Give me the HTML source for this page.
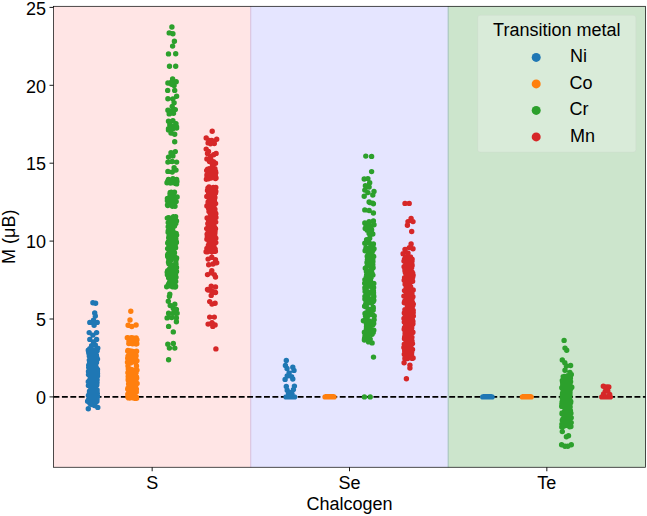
<!DOCTYPE html>
<html><head><meta charset="utf-8"><title>Chart</title>
<style>html,body{margin:0;padding:0;background:#fff;font-family:"Liberation Sans",sans-serif}svg{display:block}</style></head>
<body>
<svg width="647" height="516" viewBox="0 0 647 516">
<rect width="647" height="516" fill="#fff"/>
<rect x="53.50" y="6.30" width="197.33" height="460.95" fill="#ffe5e5"/>
<rect x="250.83" y="6.30" width="197.33" height="460.95" fill="#e5e5ff"/>
<rect x="448.17" y="6.30" width="197.33" height="460.95" fill="#cce5cc"/>
<line x1="250.70" y1="6.30" x2="250.70" y2="467.25" stroke="#d9c2e0" stroke-width="1.10"/>
<line x1="448.20" y1="6.30" x2="448.20" y2="467.25" stroke="#a6c3bd" stroke-width="1.10"/>
<line x1="53.50" y1="396.90" x2="645.50" y2="396.90" stroke="#000" stroke-width="1.60" stroke-dasharray="5.88 2.54"/>
<path d="M92.9 302.7h.01M95.6 303.3h.01M94.7 312.9h.01M95.3 316.0h.01M89.8 322.4h.01M93.5 320.3h.01M97.2 322.4h.01M94.1 325.2h.01M89.2 332.6h.01M96.6 332.6h.01M92.9 335.1h.01M89.8 339.4h.01M96.6 339.4h.01M93.5 341.9h.01M91.6 345.6h.01M95.3 345.0h.01M89.8 348.7h.01M97.8 348.1h.01M88.3 350.2h.01M93.3 350.1h.01M97.2 350.6h.01M87.6 401.2h.01M91.8 401.3h.01M96.1 401.9h.01M96.0 350.1h.01M90.3 350.3h.01M97.1 350.8h.01M91.9 351.1h.01M88.6 351.5h.01M90.9 351.7h.01M89.3 351.8h.01M95.9 352.2h.01M93.7 352.4h.01M91.7 352.8h.01M88.8 353.1h.01M90.1 353.3h.01M92.2 353.7h.01M93.7 353.9h.01M91.0 354.3h.01M94.8 354.7h.01M93.6 354.8h.01M96.4 355.2h.01M90.9 355.5h.01M89.3 355.9h.01M95.3 356.0h.01M92.8 356.2h.01M94.5 356.5h.01M93.6 357.0h.01M91.1 357.3h.01M93.8 357.6h.01M92.5 357.9h.01M97.1 358.2h.01M94.4 358.4h.01M94.8 358.6h.01M97.5 359.1h.01M90.9 359.4h.01M94.5 359.6h.01M92.5 359.8h.01M89.3 360.1h.01M95.4 360.4h.01M90.5 360.7h.01M96.4 361.0h.01M92.4 361.3h.01M96.5 361.7h.01M96.3 362.1h.01M92.1 362.2h.01M96.5 362.5h.01M89.6 363.0h.01M90.4 363.1h.01M92.8 363.4h.01M90.7 363.8h.01M92.1 363.9h.01M93.5 364.3h.01M94.7 364.8h.01M94.0 364.9h.01M88.7 365.3h.01M95.5 365.6h.01M95.7 365.9h.01M92.0 366.1h.01M94.2 366.3h.01M88.8 366.6h.01M89.7 366.9h.01M88.7 367.2h.01M89.6 367.4h.01M91.6 367.8h.01M96.4 368.0h.01M89.6 368.5h.01M91.5 368.7h.01M89.4 369.0h.01M97.5 369.5h.01M92.7 369.6h.01M89.2 369.8h.01M90.7 370.2h.01M89.7 370.6h.01M97.1 370.7h.01M89.6 371.1h.01M88.5 371.4h.01M97.4 371.7h.01M94.7 372.1h.01M91.6 372.2h.01M95.5 372.5h.01M95.5 372.9h.01M90.3 373.1h.01M97.5 373.6h.01M95.8 373.9h.01M95.2 374.2h.01M93.1 374.3h.01M88.5 374.6h.01M90.8 374.8h.01M94.7 375.2h.01M92.4 375.7h.01M97.5 376.0h.01M91.6 376.3h.01M90.3 376.4h.01M90.1 376.6h.01M96.7 377.1h.01M92.7 377.4h.01M95.7 377.7h.01M94.4 377.8h.01M95.6 378.3h.01M92.7 378.6h.01M95.6 378.7h.01M95.7 379.1h.01M91.9 379.5h.01M97.1 379.7h.01M89.8 380.1h.01M89.6 380.2h.01M95.8 380.7h.01M96.0 380.8h.01M94.4 381.3h.01M93.4 381.4h.01M88.3 381.7h.01M94.3 382.2h.01M97.0 382.4h.01M96.4 382.6h.01M90.2 383.0h.01M91.0 383.2h.01M93.7 383.5h.01M92.1 383.8h.01M96.8 384.0h.01M92.5 384.4h.01M96.7 384.7h.01M96.8 385.0h.01M93.2 385.3h.01M88.4 385.6h.01M89.9 385.9h.01M95.7 386.0h.01M92.7 386.4h.01M93.4 386.9h.01M93.1 387.0h.01M95.6 387.4h.01M93.5 387.6h.01M90.8 387.9h.01M93.0 388.3h.01M95.3 388.6h.01M92.4 389.0h.01M93.0 389.2h.01M94.7 389.4h.01M93.2 389.7h.01M97.1 390.0h.01M96.4 390.4h.01M90.6 390.8h.01M97.1 390.9h.01M89.5 391.3h.01M92.4 391.4h.01M90.5 391.7h.01M94.5 392.0h.01M96.6 392.5h.01M94.9 392.6h.01M89.5 393.0h.01M97.3 393.4h.01M97.2 393.5h.01M92.8 393.8h.01M96.0 394.3h.01M92.3 394.4h.01M91.4 394.8h.01M91.2 395.0h.01M88.4 395.4h.01M92.3 395.7h.01M91.3 395.8h.01M93.0 396.3h.01M97.5 396.4h.01M97.3 396.9h.01M90.7 397.0h.01M95.5 397.3h.01M89.4 397.6h.01M96.8 398.0h.01M90.6 398.4h.01M96.8 398.5h.01M94.8 398.9h.01M88.7 399.1h.01M92.2 399.5h.01M97.0 399.7h.01M95.7 400.1h.01M96.2 400.3h.01M96.3 400.5h.01M91.4 401.0h.01M96.9 401.3h.01M89.4 401.5h.01M90.4 401.9h.01M88.3 408.8h.01M97.8 407.4h.01M92.0 404.5h.01M94.5 405.5h.01M90.0 403.5h.01M286.3 360.5h.01M285.4 365.5h.01M287.0 368.5h.01M292.8 367.3h.01M294.0 370.4h.01M289.1 372.9h.01M287.2 376.0h.01M291.6 376.6h.01M285.1 379.4h.01M292.8 379.0h.01M286.3 386.5h.01M294.4 386.1h.01M287.2 390.2h.01M293.4 389.6h.01M290.3 392.6h.01M288.5 393.5h.01M292.0 394.0h.01M286.1 396.9h.01M286.7 396.9h.01M287.6 396.9h.01M287.9 396.9h.01M288.3 396.9h.01M289.2 396.9h.01M290.0 396.9h.01M290.9 396.9h.01M291.6 396.9h.01M292.0 396.9h.01M292.6 396.9h.01M293.1 396.9h.01M294.1 396.9h.01M294.5 396.9h.01M482.8 396.9h.01M483.4 396.9h.01M483.8 396.9h.01M484.5 396.9h.01M484.8 396.9h.01M485.4 396.9h.01M485.6 396.9h.01M486.3 396.9h.01M486.7 396.9h.01M487.1 396.9h.01M487.8 396.9h.01M488.3 396.9h.01M488.4 396.9h.01M488.9 396.9h.01M489.4 396.9h.01M489.8 396.9h.01M490.2 396.9h.01M490.8 396.9h.01M491.3 396.9h.01M492.0 396.9h.01" stroke="#1f77b4" stroke-width="5.40" stroke-linecap="round" fill="none"/>
<path d="M130.8 311.3h.01M130.0 320.0h.01M128.1 325.2h.01M131.8 326.5h.01M136.1 325.0h.01M127.3 337.8h.01M131.3 337.8h.01M136.2 338.0h.01M128.8 343.5h.01M132.4 343.7h.01M136.3 344.0h.01M127.8 337.6h.01M132.9 338.0h.01M132.2 338.1h.01M128.7 338.7h.01M131.8 338.9h.01M135.5 339.1h.01M132.5 339.4h.01M136.9 339.8h.01M135.5 340.0h.01M133.7 340.4h.01M131.0 340.6h.01M128.9 340.8h.01M134.7 341.1h.01M129.2 341.4h.01M135.6 341.7h.01M134.0 342.2h.01M130.0 342.3h.01M132.0 342.6h.01M131.9 342.9h.01M136.7 343.2h.01M132.8 343.7h.01M136.8 343.8h.01M127.7 351.1h.01M131.2 351.1h.01M136.6 351.3h.01M127.5 362.2h.01M131.2 362.6h.01M135.7 362.4h.01M127.9 350.5h.01M129.9 351.0h.01M132.7 351.4h.01M133.9 351.8h.01M136.0 352.2h.01M130.8 352.4h.01M129.1 353.0h.01M133.7 353.3h.01M135.6 353.4h.01M133.6 354.0h.01M135.3 354.3h.01M132.6 354.5h.01M135.5 355.0h.01M135.5 355.4h.01M136.1 355.7h.01M134.2 356.1h.01M128.0 356.3h.01M131.1 356.6h.01M135.6 357.0h.01M133.6 357.5h.01M134.1 357.9h.01M127.7 358.2h.01M134.7 358.6h.01M132.7 358.9h.01M128.3 359.3h.01M130.1 359.7h.01M130.2 359.8h.01M129.6 360.4h.01M136.9 360.8h.01M131.3 361.0h.01M134.1 361.4h.01M133.5 361.8h.01M128.4 362.2h.01M130.1 362.3h.01M130.6 362.9h.01M128.3 369.0h.01M131.4 369.4h.01M137.0 370.1h.01M128.6 397.9h.01M132.4 397.7h.01M136.6 398.2h.01M129.6 369.3h.01M136.5 369.6h.01M132.0 369.6h.01M136.8 370.2h.01M130.2 370.4h.01M136.6 370.6h.01M133.2 370.9h.01M132.6 371.2h.01M128.9 371.7h.01M132.5 372.0h.01M134.3 372.3h.01M136.1 372.4h.01M127.9 372.8h.01M132.3 373.0h.01M130.5 373.4h.01M130.9 373.6h.01M135.6 374.0h.01M134.8 374.2h.01M128.8 374.8h.01M134.4 375.1h.01M130.4 375.4h.01M131.4 375.5h.01M133.2 376.0h.01M131.7 376.2h.01M128.2 376.4h.01M135.5 376.7h.01M136.5 377.0h.01M130.2 377.3h.01M129.5 377.7h.01M136.7 378.0h.01M135.3 378.5h.01M136.3 378.7h.01M132.9 379.1h.01M128.2 379.3h.01M131.9 379.6h.01M133.8 379.9h.01M128.2 380.1h.01M128.9 380.6h.01M130.9 380.8h.01M134.6 381.0h.01M130.1 381.5h.01M130.5 381.8h.01M131.4 382.0h.01M129.2 382.2h.01M136.2 382.5h.01M129.8 382.9h.01M137.1 383.4h.01M129.0 383.5h.01M128.6 383.8h.01M128.6 384.1h.01M130.1 384.4h.01M136.0 384.8h.01M131.6 385.2h.01M132.6 385.4h.01M130.9 385.7h.01M130.3 385.9h.01M128.9 386.4h.01M133.6 386.6h.01M129.7 387.0h.01M130.0 387.2h.01M131.9 387.5h.01M135.7 388.0h.01M127.9 388.3h.01M134.4 388.3h.01M132.1 388.9h.01M127.7 389.1h.01M136.4 389.3h.01M135.7 389.8h.01M130.0 390.1h.01M129.2 390.2h.01M134.1 390.6h.01M134.5 391.0h.01M134.9 391.2h.01M132.9 391.5h.01M135.1 391.7h.01M136.3 392.0h.01M130.6 392.5h.01M130.1 392.6h.01M134.3 393.1h.01M128.4 393.2h.01M133.2 393.7h.01M129.8 393.9h.01M127.8 394.3h.01M132.0 394.5h.01M133.8 395.0h.01M132.2 395.3h.01M130.0 395.4h.01M134.3 395.9h.01M127.9 396.0h.01M134.0 396.4h.01M130.1 396.7h.01M136.4 397.1h.01M128.0 397.2h.01M131.7 397.6h.01M129.6 398.0h.01M134.6 398.3h.01M128.0 366.0h.01M136.5 366.0h.01M325.1 396.9h.01M325.5 396.9h.01M325.9 396.9h.01M326.7 396.9h.01M326.9 396.9h.01M327.8 396.9h.01M327.9 396.9h.01M328.7 396.9h.01M328.8 396.9h.01M329.2 396.9h.01M330.0 396.9h.01M330.3 396.9h.01M331.0 396.9h.01M331.2 396.9h.01M331.6 396.9h.01M332.4 396.9h.01M332.9 396.9h.01M333.4 396.9h.01M333.8 396.9h.01M334.0 396.9h.01M522.4 396.9h.01M522.7 396.9h.01M523.3 396.9h.01M523.8 396.9h.01M524.3 396.9h.01M524.6 396.9h.01M525.1 396.9h.01M525.5 396.9h.01M526.4 396.9h.01M526.8 396.9h.01M526.9 396.9h.01M527.7 396.9h.01M528.3 396.9h.01M528.6 396.9h.01M528.8 396.9h.01M529.5 396.9h.01M529.9 396.9h.01M530.3 396.9h.01M530.9 396.9h.01M531.1 396.9h.01" stroke="#ff7f0e" stroke-width="5.40" stroke-linecap="round" fill="none"/>
<path d="M171.9 27.0h.01M169.2 32.9h.01M172.9 33.8h.01M174.4 41.3h.01M172.6 46.1h.01M168.5 53.9h.01M175.7 53.7h.01M169.5 66.3h.01M175.7 66.3h.01M172.6 78.9h.01M167.9 83.0h.01M171.6 84.2h.01M176.2 81.7h.01M174.1 85.5h.01M167.7 90.4h.01M174.7 90.4h.01M167.9 98.7h.01M172.9 99.0h.01M176.6 96.2h.01M174.1 102.8h.01M172.2 106.5h.01M167.9 110.2h.01M171.6 111.4h.01M175.3 109.6h.01M169.2 113.9h.01M173.5 113.3h.01M168.5 121.3h.01M172.9 120.7h.01M176.0 123.8h.01M169.8 125.0h.01M174.1 126.2h.01M168.5 128.7h.01M176.6 128.1h.01M168.5 129.9h.01M172.9 128.7h.01M176.6 126.9h.01M171.0 133.0h.01M174.7 134.3h.01M174.7 141.7h.01M171.0 152.8h.01M175.3 151.6h.01M168.5 157.1h.01M172.9 155.9h.01M167.9 162.1h.01M172.2 161.5h.01M176.6 162.1h.01M167.9 171.4h.01M172.2 172.0h.01M176.0 170.1h.01M174.1 167.6h.01M168.5 179.4h.01M172.9 178.8h.01M176.6 179.4h.01M170.4 183.1h.01M174.7 183.1h.01M171.0 82.4h.01M173.5 83.0h.01M170.0 111.5h.01M173.0 111.0h.01M167.7 181.3h.01M173.0 181.5h.01M176.9 181.4h.01M167.0 182.8h.01M171.4 182.5h.01M176.1 183.7h.01M171.1 181.1h.01M176.1 181.6h.01M170.9 181.8h.01M176.4 182.2h.01M167.7 182.6h.01M170.9 182.9h.01M175.5 183.6h.01M176.6 183.9h.01M170.2 192.5h.01M171.5 193.5h.01M174.5 192.1h.01M169.9 196.4h.01M171.7 196.5h.01M173.7 197.0h.01M171.2 192.2h.01M170.0 193.6h.01M170.4 194.5h.01M173.5 194.8h.01M171.6 196.0h.01M171.8 196.2h.01M167.4 198.5h.01M171.2 197.6h.01M177.1 197.0h.01M167.5 205.0h.01M172.5 206.2h.01M175.0 206.2h.01M169.6 197.4h.01M175.6 197.7h.01M169.8 198.0h.01M173.0 198.7h.01M173.9 198.8h.01M169.8 199.2h.01M174.3 199.5h.01M173.2 200.3h.01M167.4 200.8h.01M171.7 200.9h.01M176.2 201.6h.01M169.6 201.8h.01M171.8 202.3h.01M168.9 202.9h.01M174.1 203.3h.01M174.5 203.7h.01M170.3 204.0h.01M170.6 204.3h.01M167.9 204.9h.01M174.3 205.1h.01M167.8 205.6h.01M172.4 205.9h.01M167.3 218.1h.01M172.8 218.1h.01M175.6 216.6h.01M166.7 286.7h.01M172.4 286.8h.01M175.5 286.8h.01M173.5 216.8h.01M175.2 217.3h.01M168.3 217.7h.01M170.0 218.3h.01M170.7 218.6h.01M169.1 219.2h.01M169.5 219.4h.01M175.5 219.8h.01M170.3 220.5h.01M176.5 220.9h.01M169.4 221.4h.01M173.3 222.0h.01M168.2 222.6h.01M174.9 222.8h.01M175.8 223.4h.01M170.0 223.5h.01M169.0 224.0h.01M172.7 224.9h.01M170.7 225.3h.01M171.4 225.8h.01M174.5 226.0h.01M168.2 226.8h.01M173.0 227.1h.01M170.7 227.3h.01M169.1 227.8h.01M172.8 228.3h.01M169.1 228.9h.01M170.3 229.1h.01M168.9 229.9h.01M169.1 230.2h.01M172.4 230.9h.01M168.2 231.0h.01M172.4 231.6h.01M168.1 232.2h.01M173.7 232.5h.01M169.9 233.0h.01M176.2 233.5h.01M172.5 233.9h.01M171.1 234.4h.01M176.6 235.1h.01M169.1 235.4h.01M169.1 236.0h.01M175.7 236.1h.01M174.9 236.8h.01M175.5 237.2h.01M168.7 237.7h.01M172.4 238.0h.01M175.8 238.8h.01M173.0 239.0h.01M171.9 239.6h.01M169.9 239.9h.01M175.9 240.6h.01M171.8 240.8h.01M176.3 241.6h.01M168.4 241.8h.01M176.4 242.6h.01M167.7 242.9h.01M170.8 243.6h.01M173.0 244.0h.01M168.7 244.4h.01M169.3 244.9h.01M175.2 245.2h.01M168.9 245.8h.01M171.0 246.0h.01M170.8 246.6h.01M169.5 246.9h.01M175.6 247.7h.01M172.5 247.8h.01M167.6 248.6h.01M168.3 249.1h.01M172.4 249.5h.01M170.1 250.0h.01M172.7 250.3h.01M173.4 250.8h.01M171.3 251.3h.01M173.0 251.5h.01M169.4 252.2h.01M174.5 252.8h.01M168.9 253.1h.01M168.2 253.6h.01M171.2 253.9h.01M171.4 254.4h.01M167.6 255.0h.01M168.0 255.6h.01M174.5 256.1h.01M167.7 256.4h.01M170.8 256.9h.01M168.5 257.6h.01M176.6 258.0h.01M174.9 258.4h.01M176.4 258.6h.01M176.2 259.2h.01M168.8 259.9h.01M175.9 260.3h.01M170.5 260.4h.01M168.7 261.2h.01M169.8 261.8h.01M168.5 262.2h.01M175.8 262.5h.01M169.7 262.8h.01M170.2 263.4h.01M168.9 263.7h.01M176.0 264.2h.01M175.6 264.9h.01M174.6 265.2h.01M172.2 265.6h.01M170.6 266.3h.01M172.4 266.9h.01M175.5 267.2h.01M176.5 267.5h.01M170.9 268.2h.01M169.7 268.7h.01M172.6 269.3h.01M174.4 269.5h.01M168.9 270.0h.01M167.7 270.6h.01M169.6 271.1h.01M176.5 271.4h.01M173.4 271.9h.01M167.2 272.2h.01M168.6 272.6h.01M171.3 273.3h.01M175.6 273.7h.01M169.3 274.0h.01M167.4 274.7h.01M170.5 274.9h.01M170.6 275.4h.01M172.7 275.9h.01M169.1 276.6h.01M171.7 277.0h.01M176.0 277.3h.01M168.6 277.8h.01M173.2 278.2h.01M174.6 279.0h.01M169.7 279.3h.01M173.3 279.6h.01M170.5 280.3h.01M171.4 280.8h.01M174.1 281.4h.01M175.7 281.5h.01M172.2 281.9h.01M169.4 282.6h.01M174.5 282.9h.01M172.4 283.3h.01M168.5 284.2h.01M172.9 284.3h.01M173.2 284.9h.01M168.8 285.5h.01M170.0 285.8h.01M175.6 286.1h.01M173.9 286.9h.01M175.1 287.0h.01M169.8 294.3h.01M169.4 296.2h.01M168.3 301.2h.01M170.2 305.5h.01M174.8 304.3h.01M173.3 308.6h.01M176.4 309.4h.01M168.6 313.3h.01M173.3 313.3h.01M177.1 313.3h.01M167.1 317.9h.01M171.7 317.6h.01M176.4 317.9h.01M176.4 321.8h.01M168.6 326.4h.01M173.3 331.9h.01M167.8 344.3h.01M173.3 343.5h.01M169.4 348.1h.01M174.8 348.1h.01M168.6 359.8h.01M365.8 156.1h.01M371.6 156.4h.01M371.6 171.6h.01M364.2 179.0h.01M367.9 178.6h.01M369.7 182.7h.01M365.4 185.8h.01M369.1 187.0h.01M364.8 190.1h.01M374.0 191.4h.01M367.9 192.6h.01M364.2 196.3h.01M372.8 195.1h.01M369.1 201.9h.01M372.8 203.1h.01M369.7 202.5h.01M373.4 203.7h.01M364.8 209.9h.01M369.1 210.5h.01M373.4 213.0h.01M364.8 222.9h.01M369.1 221.6h.01M373.4 221.0h.01M366.0 226.6h.01M370.3 226.0h.01M374.0 224.7h.01M367.2 230.3h.01M371.6 229.7h.01M369.1 233.4h.01M372.8 234.0h.01M365.2 228.5h.01M368.5 224.5h.01M366.6 239.6h.01M369.7 238.3h.01M364.8 243.3h.01M369.1 242.6h.01M373.4 243.9h.01M366.0 247.6h.01M370.3 247.0h.01M374.0 248.8h.01M365.3 250.1h.01M369.1 250.5h.01M372.9 250.5h.01M365.5 316.0h.01M368.1 315.0h.01M374.2 315.9h.01M371.4 249.2h.01M372.6 249.8h.01M365.1 250.7h.01M369.9 251.3h.01M370.9 252.0h.01M372.0 252.5h.01M370.6 253.3h.01M368.4 254.2h.01M371.9 254.7h.01M371.9 255.7h.01M367.2 256.2h.01M373.7 256.5h.01M372.3 257.6h.01M370.2 258.0h.01M372.3 259.1h.01M367.4 259.6h.01M372.8 260.1h.01M370.9 260.8h.01M372.9 261.6h.01M367.2 262.4h.01M367.0 262.5h.01M370.0 263.5h.01M372.8 264.4h.01M372.3 264.6h.01M372.7 265.8h.01M367.1 266.3h.01M372.1 267.2h.01M373.1 267.7h.01M365.3 268.2h.01M372.0 269.0h.01M371.6 269.4h.01M366.7 270.6h.01M370.9 271.1h.01M366.4 271.6h.01M371.6 272.2h.01M368.8 273.2h.01M372.1 273.4h.01M366.7 274.6h.01M372.9 275.1h.01M369.4 276.0h.01M370.0 276.4h.01M366.3 276.9h.01M371.1 277.5h.01M369.8 278.3h.01M369.4 279.1h.01M364.9 279.6h.01M368.0 280.8h.01M370.4 280.9h.01M366.0 282.0h.01M367.7 282.6h.01M364.7 283.2h.01M373.8 283.5h.01M369.1 284.8h.01M367.0 285.3h.01M368.5 286.1h.01M371.7 286.9h.01M373.6 287.5h.01M364.9 287.7h.01M366.2 288.4h.01M365.0 289.0h.01M372.7 290.0h.01M373.4 290.6h.01M365.1 291.6h.01M368.2 292.0h.01M373.5 292.4h.01M369.8 293.2h.01M373.5 294.1h.01M368.2 294.8h.01M366.0 295.3h.01M373.8 296.4h.01M364.9 296.5h.01M367.8 297.2h.01M373.0 298.3h.01M364.9 299.0h.01M371.2 299.6h.01M373.8 300.2h.01M365.9 300.5h.01M373.3 301.6h.01M367.3 302.2h.01M371.6 302.9h.01M367.5 303.2h.01M365.7 304.0h.01M366.1 304.8h.01M365.8 305.3h.01M364.6 306.3h.01M366.3 307.0h.01M373.2 307.2h.01M373.3 308.0h.01M372.9 309.1h.01M368.7 309.3h.01M373.2 310.0h.01M370.4 311.2h.01M367.7 311.6h.01M369.0 312.5h.01M365.8 313.0h.01M365.0 313.4h.01M369.7 314.5h.01M372.7 314.7h.01M368.4 315.5h.01M367.0 318.2h.01M367.6 320.4h.01M369.1 320.9h.01M373.0 322.4h.01M373.7 323.4h.01M372.9 324.7h.01M366.5 326.8h.01M367.2 327.8h.01M366.4 328.9h.01M373.8 330.3h.01M373.2 332.5h.01M367.2 332.6h.01M365.0 335.0h.01M367.3 336.1h.01M364.7 337.7h.01M367.7 338.8h.01M364.5 339.2h.01M369.4 341.5h.01M368.6 341.9h.01M363.4 320.7h.01M369.2 321.6h.01M374.1 319.7h.01M370.2 326.5h.01M364.4 332.3h.01M369.2 330.3h.01M372.1 334.2h.01M364.4 340.0h.01M370.2 339.1h.01M372.1 342.9h.01M366.5 324.0h.01M367.0 336.0h.01M373.5 357.1h.01M364.4 396.9h.01M370.2 396.9h.01M564.1 340.4h.01M565.0 348.1h.01M566.7 350.2h.01M562.3 359.9h.01M564.8 362.7h.01M570.6 365.5h.01M566.4 365.9h.01M565.0 370.3h.01M569.9 372.4h.01M571.3 374.5h.01M567.8 375.8h.01M570.5 376.1h.01M564.2 376.4h.01M563.2 376.6h.01M569.0 376.9h.01M564.6 377.5h.01M567.8 377.6h.01M570.4 378.2h.01M569.1 378.3h.01M568.7 378.9h.01M563.6 379.0h.01M564.8 379.5h.01M567.0 379.7h.01M569.5 380.1h.01M562.3 380.4h.01M567.7 380.8h.01M568.4 381.2h.01M570.6 381.6h.01M566.5 381.8h.01M564.7 382.0h.01M562.6 382.5h.01M563.4 382.9h.01M570.1 383.2h.01M563.0 383.5h.01M564.2 384.2h.01M562.7 384.9h.01M569.2 385.4h.01M565.9 385.9h.01M567.7 386.1h.01M565.9 386.8h.01M561.8 387.7h.01M566.9 388.3h.01M571.8 387.3h.01M561.7 406.3h.01M566.7 406.4h.01M570.1 406.9h.01M566.1 387.1h.01M570.4 387.6h.01M571.1 387.9h.01M567.7 388.2h.01M562.3 388.5h.01M567.5 388.8h.01M567.2 389.0h.01M566.3 389.5h.01M564.6 389.7h.01M570.2 389.9h.01M563.5 390.1h.01M566.0 390.6h.01M568.0 390.8h.01M567.3 391.2h.01M566.8 391.5h.01M565.5 391.9h.01M563.4 392.0h.01M567.0 392.6h.01M570.0 392.7h.01M562.6 393.0h.01M564.1 393.4h.01M567.0 393.7h.01M567.2 393.9h.01M566.6 394.2h.01M562.5 394.7h.01M562.4 394.9h.01M570.0 395.3h.01M568.6 395.6h.01M562.8 396.0h.01M568.6 396.4h.01M569.7 396.4h.01M563.3 396.8h.01M567.1 397.3h.01M563.0 397.6h.01M562.3 397.9h.01M565.3 398.0h.01M567.4 398.3h.01M564.6 398.6h.01M565.8 399.1h.01M567.7 399.5h.01M567.1 399.8h.01M570.1 400.1h.01M568.9 400.2h.01M569.0 400.5h.01M569.6 401.0h.01M565.3 401.1h.01M570.8 401.6h.01M562.1 401.9h.01M562.7 402.2h.01M569.4 402.5h.01M570.6 402.7h.01M564.1 403.1h.01M566.0 403.3h.01M567.3 403.8h.01M561.9 403.9h.01M569.4 404.2h.01M567.0 404.6h.01M568.3 404.9h.01M563.1 405.2h.01M566.9 405.7h.01M569.5 406.0h.01M561.8 406.4h.01M563.1 406.5h.01M570.1 406.8h.01M564.5 407.4h.01M569.9 407.6h.01M567.0 408.3h.01M565.4 408.7h.01M567.0 409.4h.01M568.5 409.9h.01M566.5 410.0h.01M570.4 410.6h.01M564.6 411.3h.01M566.8 411.6h.01M562.1 412.9h.01M566.2 412.6h.01M569.6 412.9h.01M561.8 427.0h.01M566.4 425.4h.01M569.7 426.8h.01M564.3 412.2h.01M566.5 412.5h.01M567.2 412.8h.01M570.9 413.3h.01M562.0 413.8h.01M569.1 414.0h.01M569.1 414.5h.01M567.8 414.7h.01M564.4 415.0h.01M570.1 415.5h.01M568.2 415.9h.01M569.0 416.0h.01M566.6 416.5h.01M565.1 416.9h.01M565.6 417.2h.01M564.9 417.4h.01M571.2 417.8h.01M565.2 418.2h.01M564.0 418.5h.01M563.0 418.9h.01M570.1 419.1h.01M566.0 419.7h.01M564.6 420.1h.01M562.3 420.3h.01M564.7 420.7h.01M567.0 421.2h.01M565.0 421.6h.01M567.3 422.0h.01M563.4 422.0h.01M571.2 422.6h.01M569.1 422.8h.01M570.0 423.2h.01M566.4 423.5h.01M564.3 424.1h.01M561.9 424.2h.01M564.3 424.6h.01M563.8 425.1h.01M563.6 425.4h.01M570.0 425.8h.01M563.6 426.2h.01M570.9 426.5h.01M562.5 426.9h.01M562.3 431.6h.01M568.5 435.8h.01M566.4 436.8h.01M561.6 444.8h.01M565.0 446.2h.01M567.8 446.2h.01M571.3 444.8h.01" stroke="#2ca02c" stroke-width="5.40" stroke-linecap="round" fill="none"/>
<path d="M212.2 131.2h.01M206.2 138.0h.01M211.8 140.5h.01M216.7 139.2h.01M208.1 142.9h.01M214.3 143.5h.01M206.2 149.1h.01M207.5 153.4h.01M216.1 153.4h.01M210.6 156.5h.01M213.7 154.7h.01M206.9 159.0h.01M211.2 160.2h.01M215.5 163.3h.01M212.4 164.6h.01M209.5 140.5h.01M213.0 141.8h.01M210.5 143.8h.01M208.5 151.5h.01M209.5 161.5h.01M213.5 161.8h.01M207.6 169.2h.01M211.9 169.2h.01M214.9 168.7h.01M206.4 179.2h.01M210.9 178.1h.01M216.0 177.9h.01M209.1 168.7h.01M210.7 169.0h.01M211.5 169.4h.01M212.6 169.6h.01M208.6 170.2h.01M206.7 170.5h.01M208.8 170.6h.01M215.5 171.1h.01M209.7 171.5h.01M209.7 171.8h.01M215.1 172.0h.01M213.1 172.4h.01M215.8 172.8h.01M214.5 173.0h.01M214.7 173.5h.01M213.4 173.7h.01M209.5 174.1h.01M212.5 174.3h.01M215.2 174.6h.01M206.9 175.0h.01M215.3 175.3h.01M207.9 175.7h.01M207.0 175.9h.01M212.6 176.5h.01M213.5 176.8h.01M212.2 177.0h.01M214.3 177.4h.01M215.0 177.9h.01M214.8 178.0h.01M215.5 178.6h.01M208.5 178.7h.01M206.9 179.0h.01M207.9 188.3h.01M211.6 188.3h.01M215.8 187.5h.01M206.1 251.8h.01M211.9 251.7h.01M215.1 251.3h.01M209.0 187.0h.01M213.3 187.5h.01M209.6 187.8h.01M211.3 188.4h.01M212.4 188.7h.01M210.5 188.8h.01M213.9 189.3h.01M213.2 189.6h.01M208.6 190.0h.01M207.5 190.5h.01M208.2 190.8h.01M208.5 190.9h.01M215.8 191.5h.01M211.2 191.6h.01M214.1 192.1h.01M211.2 192.4h.01M214.4 192.8h.01M215.5 193.1h.01M208.6 193.5h.01M211.3 194.0h.01M212.6 194.1h.01M214.0 194.4h.01M214.0 195.0h.01M209.9 195.3h.01M210.3 195.6h.01M207.4 196.1h.01M206.8 196.5h.01M209.1 196.6h.01M211.3 197.2h.01M214.9 197.4h.01M210.9 197.7h.01M213.7 198.1h.01M212.7 198.6h.01M209.7 198.8h.01M214.5 199.1h.01M213.6 199.6h.01M210.7 199.8h.01M212.0 200.3h.01M210.9 200.5h.01M208.8 201.1h.01M209.4 201.2h.01M214.5 201.7h.01M208.1 201.9h.01M209.7 202.3h.01M208.1 202.7h.01M208.4 203.0h.01M213.5 203.6h.01M215.6 203.6h.01M210.2 204.0h.01M214.1 204.7h.01M210.7 204.9h.01M212.6 205.1h.01M208.5 205.4h.01M206.9 205.9h.01M214.0 206.2h.01M211.3 206.7h.01M211.0 207.0h.01M212.3 207.2h.01M213.6 207.6h.01M210.6 208.2h.01M213.6 208.4h.01M208.7 208.7h.01M214.9 209.2h.01M213.2 209.5h.01M213.0 209.9h.01M210.9 210.2h.01M212.5 210.4h.01M210.5 210.7h.01M213.3 211.3h.01M209.0 211.6h.01M210.9 211.9h.01M210.4 212.3h.01M215.3 212.7h.01M212.8 212.9h.01M210.3 213.4h.01M215.8 213.7h.01M211.7 213.9h.01M213.9 214.3h.01M211.5 214.9h.01M212.0 214.9h.01M213.3 215.5h.01M212.6 215.8h.01M211.5 216.3h.01M215.5 216.5h.01M213.0 216.7h.01M213.8 217.2h.01M215.9 217.4h.01M207.1 217.9h.01M210.4 218.2h.01M210.5 218.4h.01M213.2 218.9h.01M209.1 219.3h.01M213.6 219.6h.01M211.6 220.2h.01M214.1 220.3h.01M208.6 220.7h.01M213.9 221.0h.01M212.6 221.6h.01M211.9 221.8h.01M215.7 222.1h.01M212.6 222.5h.01M214.3 223.0h.01M209.4 223.2h.01M207.8 223.6h.01M209.9 224.0h.01M209.1 224.4h.01M209.0 224.6h.01M208.3 224.9h.01M213.4 225.2h.01M208.9 225.6h.01M211.1 226.0h.01M212.6 226.4h.01M210.0 226.8h.01M214.6 227.2h.01M214.4 227.3h.01M214.0 227.9h.01M214.4 228.0h.01M206.7 228.6h.01M215.5 228.7h.01M209.0 229.3h.01M207.9 229.4h.01M213.9 229.8h.01M208.0 230.2h.01M214.0 230.8h.01M215.0 230.9h.01M213.9 231.4h.01M215.0 231.7h.01M214.5 232.1h.01M213.1 232.3h.01M213.6 232.8h.01M214.9 233.1h.01M209.1 233.5h.01M207.9 233.7h.01M207.1 234.2h.01M208.0 234.5h.01M211.3 234.9h.01M214.7 235.2h.01M214.5 235.4h.01M211.9 235.9h.01M214.5 236.3h.01M210.5 236.6h.01M207.3 237.1h.01M212.6 237.4h.01M212.3 237.5h.01M215.4 238.1h.01M215.8 238.3h.01M211.2 238.8h.01M206.9 239.2h.01M212.5 239.5h.01M214.7 239.8h.01M211.1 240.1h.01M213.8 240.5h.01M210.7 240.8h.01M211.8 241.2h.01M209.4 241.7h.01M210.4 242.0h.01M209.2 242.3h.01M215.8 242.6h.01M214.0 243.0h.01M209.6 243.3h.01M212.1 243.6h.01M214.0 244.1h.01M213.4 244.2h.01M211.7 244.9h.01M209.4 245.0h.01M208.4 245.3h.01M212.3 246.0h.01M214.0 246.2h.01M212.4 246.7h.01M212.5 246.9h.01M212.2 247.3h.01M208.6 247.6h.01M210.9 248.0h.01M207.6 248.4h.01M206.9 248.5h.01M215.2 249.1h.01M210.1 249.4h.01M214.0 249.8h.01M209.0 250.1h.01M210.6 250.3h.01M210.6 250.7h.01M215.4 251.2h.01M211.9 251.3h.01M207.7 251.7h.01M208.1 259.1h.01M211.8 257.2h.01M215.5 259.7h.01M208.7 264.7h.01M213.0 264.0h.01M216.7 262.8h.01M211.8 270.8h.01M207.5 274.6h.01M211.2 272.7h.01M214.3 274.6h.01M215.5 277.0h.01M207.5 289.4h.01M211.2 286.3h.01M215.5 286.9h.01M211.8 291.2h.01M215.5 292.5h.01M208.1 290.0h.01M213.6 292.3h.01M211.2 295.4h.01M209.7 301.6h.01M215.1 303.2h.01M212.0 304.0h.01M209.7 317.1h.01M214.3 317.1h.01M208.1 324.1h.01M212.0 322.6h.01M215.1 324.9h.01M212.8 326.4h.01M215.9 348.9h.01M405.0 203.4h.01M409.2 203.4h.01M411.1 218.5h.01M408.0 221.6h.01M413.0 221.6h.01M407.4 225.3h.01M411.7 231.5h.01M411.1 243.9h.01M409.3 247.6h.01M413.0 248.8h.01M405.0 249.4h.01M403.1 253.8h.01M408.0 253.1h.01M406.2 257.5h.01M410.5 256.9h.01M405.3 258.3h.01M408.8 258.2h.01M412.1 259.2h.01M404.9 358.4h.01M407.6 358.6h.01M413.1 357.9h.01M405.8 258.1h.01M410.6 258.6h.01M409.4 259.0h.01M404.5 259.2h.01M407.7 259.8h.01M404.4 260.1h.01M407.1 260.5h.01M412.0 260.9h.01M404.0 261.1h.01M408.4 261.7h.01M406.4 262.0h.01M411.7 262.1h.01M405.4 262.6h.01M409.5 263.0h.01M408.8 263.2h.01M408.7 263.7h.01M410.6 264.0h.01M412.0 264.6h.01M410.6 264.8h.01M411.0 265.2h.01M412.1 265.4h.01M408.6 266.1h.01M408.9 266.3h.01M404.1 266.7h.01M406.0 267.2h.01M404.9 267.3h.01M411.6 267.7h.01M404.8 268.0h.01M405.7 268.6h.01M409.5 268.7h.01M408.8 269.3h.01M404.9 269.7h.01M410.6 270.2h.01M405.1 270.2h.01M408.6 270.8h.01M405.0 271.1h.01M405.2 271.5h.01M412.0 271.9h.01M409.3 272.1h.01M405.4 272.7h.01M412.7 273.1h.01M407.9 273.3h.01M408.8 273.9h.01M412.7 274.1h.01M407.1 274.6h.01M407.0 274.7h.01M413.1 275.2h.01M412.5 275.7h.01M411.9 276.1h.01M408.8 276.2h.01M412.7 276.9h.01M407.9 277.0h.01M407.3 277.5h.01M404.6 277.8h.01M408.6 278.2h.01M405.2 278.4h.01M411.2 279.1h.01M409.9 279.4h.01M412.2 279.8h.01M404.2 280.2h.01M406.4 280.5h.01M406.5 280.8h.01M412.6 281.2h.01M406.3 281.6h.01M408.0 281.9h.01M406.6 282.4h.01M410.0 282.5h.01M409.5 282.8h.01M408.7 283.5h.01M408.3 283.6h.01M405.3 284.1h.01M405.1 284.3h.01M407.7 284.8h.01M406.2 285.1h.01M409.0 285.4h.01M409.6 286.1h.01M410.0 286.3h.01M410.6 286.6h.01M409.1 287.0h.01M408.3 287.5h.01M406.2 287.7h.01M408.7 288.1h.01M409.4 288.5h.01M407.2 288.7h.01M406.1 289.4h.01M408.5 289.7h.01M413.2 289.9h.01M411.2 290.3h.01M404.5 290.6h.01M408.0 291.3h.01M407.5 291.3h.01M410.8 291.9h.01M406.0 292.1h.01M410.8 292.8h.01M407.1 292.9h.01M410.2 293.3h.01M411.9 293.8h.01M408.8 294.2h.01M410.9 294.6h.01M408.4 294.9h.01M410.6 295.3h.01M405.1 295.7h.01M403.9 296.1h.01M409.4 296.4h.01M412.9 296.7h.01M407.8 297.1h.01M412.1 297.5h.01M407.5 297.8h.01M408.2 298.2h.01M406.7 298.6h.01M409.1 298.9h.01M406.9 299.2h.01M411.9 299.8h.01M408.1 300.0h.01M406.8 300.3h.01M409.3 300.6h.01M404.7 301.2h.01M406.9 301.7h.01M411.8 302.0h.01M405.8 302.4h.01M412.5 302.6h.01M404.3 302.8h.01M408.6 303.4h.01M411.2 303.9h.01M413.3 304.1h.01M408.8 304.5h.01M407.6 304.9h.01M409.5 305.2h.01M412.8 305.5h.01M408.8 306.0h.01M407.4 306.2h.01M409.2 306.6h.01M412.2 307.1h.01M408.5 307.6h.01M409.8 307.8h.01M407.1 308.3h.01M411.6 308.5h.01M406.9 308.8h.01M411.7 309.5h.01M404.9 309.7h.01M410.4 310.2h.01M413.2 310.5h.01M407.9 310.9h.01M406.6 311.0h.01M408.6 311.5h.01M405.6 311.8h.01M409.6 312.3h.01M413.2 312.6h.01M404.3 313.0h.01M411.3 313.3h.01M410.4 313.6h.01M406.8 313.9h.01M409.4 314.6h.01M405.7 314.9h.01M409.1 315.2h.01M410.0 315.5h.01M413.3 316.0h.01M407.8 316.3h.01M405.4 316.5h.01M404.9 317.1h.01M405.5 317.3h.01M411.6 317.8h.01M411.5 318.2h.01M404.0 318.4h.01M406.9 319.0h.01M407.2 319.4h.01M406.4 319.5h.01M412.4 319.9h.01M407.2 320.4h.01M407.5 320.7h.01M412.3 321.0h.01M412.9 321.5h.01M409.7 321.8h.01M404.3 322.1h.01M411.9 322.8h.01M412.3 322.9h.01M406.8 323.5h.01M412.9 323.8h.01M412.8 324.1h.01M407.6 324.4h.01M406.0 324.9h.01M412.1 325.1h.01M411.4 325.6h.01M405.5 325.8h.01M405.7 326.3h.01M406.6 326.9h.01M405.0 327.1h.01M407.5 327.4h.01M404.5 327.8h.01M411.7 328.0h.01M406.2 328.5h.01M406.6 328.8h.01M404.2 329.2h.01M407.1 329.7h.01M410.5 329.9h.01M406.4 330.2h.01M405.1 330.9h.01M411.8 331.1h.01M405.4 331.6h.01M410.7 331.8h.01M412.9 332.2h.01M412.8 332.5h.01M406.0 333.0h.01M405.1 333.3h.01M406.4 333.8h.01M409.4 334.2h.01M406.2 334.4h.01M405.9 334.9h.01M405.1 335.3h.01M409.0 335.6h.01M411.2 335.8h.01M410.1 336.3h.01M406.8 336.7h.01M404.7 337.0h.01M411.9 337.3h.01M410.1 337.7h.01M409.2 338.0h.01M408.6 338.5h.01M404.5 338.8h.01M406.0 339.2h.01M410.6 339.5h.01M407.7 339.9h.01M411.2 340.5h.01M412.0 340.9h.01M406.5 341.0h.01M410.3 341.3h.01M407.2 341.9h.01M410.1 342.2h.01M406.2 342.7h.01M407.2 343.1h.01M405.6 343.4h.01M412.5 343.6h.01M410.6 344.2h.01M404.3 344.3h.01M405.8 344.7h.01M407.5 345.1h.01M406.8 345.4h.01M405.6 346.0h.01M409.3 346.4h.01M406.3 346.7h.01M410.3 347.0h.01M403.9 347.4h.01M411.2 347.9h.01M404.3 348.1h.01M409.6 348.7h.01M406.2 348.7h.01M411.3 349.1h.01M412.5 349.5h.01M404.7 350.1h.01M407.6 350.4h.01M411.7 350.8h.01M404.7 351.0h.01M407.9 351.6h.01M410.4 352.0h.01M411.7 352.3h.01M408.2 352.6h.01M410.5 352.8h.01M408.7 353.3h.01M405.1 353.9h.01M404.3 354.2h.01M411.5 354.5h.01M409.0 354.7h.01M409.9 355.4h.01M406.2 355.6h.01M407.3 355.8h.01M405.8 356.3h.01M405.2 356.6h.01M410.2 357.1h.01M406.2 357.3h.01M408.1 357.8h.01M407.2 358.3h.01M412.2 358.4h.01M404.1 362.7h.01M409.9 365.2h.01M409.9 368.1h.01M406.4 378.8h.01M603.3 386.3h.01M606.0 386.9h.01M608.8 387.0h.01M605.3 391.2h.01M607.8 391.2h.01M603.6 394.0h.01M609.7 394.5h.01M601.8 396.9h.01M602.6 396.9h.01M602.9 396.9h.01M603.4 396.9h.01M604.1 396.9h.01M605.0 396.9h.01M605.9 396.9h.01M606.4 396.9h.01M607.3 396.9h.01M607.5 396.9h.01M608.2 396.9h.01M609.2 396.9h.01M609.8 396.9h.01M610.3 396.9h.01" stroke="#d62728" stroke-width="5.40" stroke-linecap="round" fill="none"/>
<rect x="53.50" y="6.30" width="592.00" height="460.95" fill="none" stroke="#000" stroke-width="0.70"/>
<path d="M53.50 396.90h-4.00M53.50 319.00h-4.00M53.50 241.10h-4.00M53.50 163.20h-4.00M53.50 85.30h-4.00M53.50 7.40h-4.00M152.17 467.25v4.00M349.50 467.25v4.00M546.83 467.25v4.00" stroke="#000" stroke-width="0.90" fill="none"/>
<g fill="#000" font-family="'Liberation Sans', sans-serif" font-size="18">
<text x="46.10" y="404.10" text-anchor="end">0</text>
<text x="46.10" y="326.20" text-anchor="end">5</text>
<text x="46.10" y="248.30" text-anchor="end">10</text>
<text x="46.10" y="170.40" text-anchor="end">15</text>
<text x="46.10" y="92.50" text-anchor="end">20</text>
<text x="46.10" y="14.60" text-anchor="end">25</text>
<text x="152.17" y="488.90" text-anchor="middle">S</text>
<text x="349.50" y="488.90" text-anchor="middle">Se</text>
<text x="546.83" y="488.90" text-anchor="middle">Te</text>
<text x="349.50" y="510.40" text-anchor="middle">Chalcogen</text>
<text x="0" y="0" text-anchor="middle" transform="translate(14.90 236.78) rotate(-90)">M (μB)</text>
</g>
<rect x="477.80" y="15.30" width="158.00" height="136.70" rx="2.30" fill="#fff" fill-opacity="0.25" stroke="#ccc" stroke-opacity="0.30" stroke-width="0.70"/>
<g fill="#000" font-family="'Liberation Sans', sans-serif" font-size="18">
<text x="556.80" y="36.30" text-anchor="middle">Transition metal</text>
<text x="570.00" y="62.00">Ni</text>
<text x="569.40" y="88.50">Co</text>
<text x="569.40" y="115.00">Cr</text>
<text x="570.00" y="141.50">Mn</text>
</g>
<circle cx="536.20" cy="57.40" r="4.50" fill="#1f77b4"/>
<circle cx="536.20" cy="83.90" r="4.50" fill="#ff7f0e"/>
<circle cx="536.20" cy="110.40" r="4.50" fill="#2ca02c"/>
<circle cx="536.20" cy="136.90" r="4.50" fill="#d62728"/>
</svg>
</body></html>
